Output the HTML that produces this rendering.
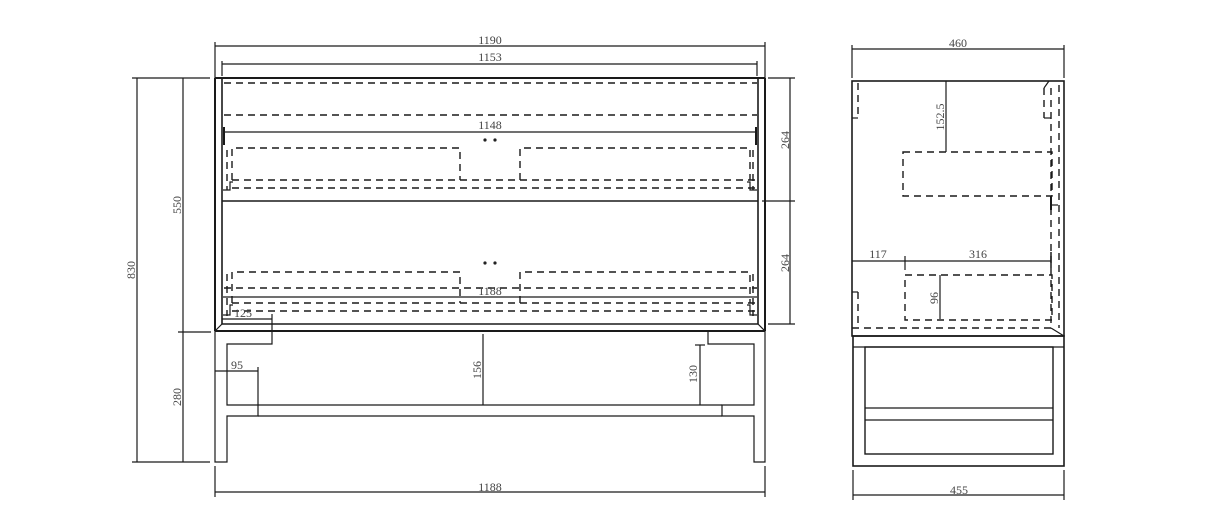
<!DOCTYPE html>
<html><head><meta charset="utf-8"><style>
html,body{margin:0;padding:0;background:#fff;}
svg{display:block;}
text{font-family:"Liberation Serif","Noto Serif CJK SC",serif;font-size:12px;fill:#444;}
</style></head><body>
<svg width="1207" height="513" viewBox="0 0 1207 513" xmlns="http://www.w3.org/2000/svg">
<g stroke="#1a1a1a" fill="none" stroke-width="1.2">
<line x1="215" y1="46" x2="765" y2="46"/>
<line x1="215" y1="42" x2="215" y2="78"/>
<line x1="765" y1="42" x2="765" y2="78"/>
<line x1="222" y1="64" x2="757" y2="64"/>
<line x1="222" y1="61" x2="222" y2="76"/>
<line x1="757" y1="61" x2="757" y2="76"/>
<line x1="215" y1="78" x2="765" y2="78" stroke-width="2"/>
<line x1="215" y1="78" x2="215" y2="331" stroke-width="2"/>
<line x1="222" y1="78" x2="222" y2="324" stroke-width="1.6"/>
<line x1="758" y1="78" x2="758" y2="324" stroke-width="1.6"/>
<line x1="765" y1="78" x2="765" y2="331" stroke-width="2"/>
<line x1="222" y1="324" x2="758" y2="324" stroke-width="1.6"/>
<line x1="215" y1="331" x2="765" y2="331" stroke-width="2"/>
<line x1="215" y1="331" x2="222" y2="324"/>
<line x1="765" y1="331" x2="758" y2="324"/>
<line x1="222" y1="201" x2="758" y2="201" stroke-width="1.6"/>
<line x1="223" y1="132" x2="757" y2="132"/>
<line x1="223" y1="297" x2="757" y2="297"/>
<g stroke-dasharray="7,5" stroke-width="1.4">
<line x1="224" y1="83" x2="757" y2="83"/>
<line x1="224" y1="115" x2="757" y2="115"/>
<polyline points="232,180 232,148 460,148 460,180"/>
<polyline points="520,180 520,148 750,148 750,180"/>
<line x1="232" y1="180" x2="757" y2="180"/>
<line x1="232" y1="188" x2="757" y2="188"/>
<polyline points="232,303 232,272 460,272 460,303"/>
<polyline points="520,303 520,272 750,272 750,303"/>
<line x1="224" y1="288" x2="757" y2="288"/>
<line x1="232" y1="303" x2="757" y2="303"/>
<line x1="232" y1="311" x2="757" y2="311"/>
<line x1="227" y1="150" x2="227" y2="190"/>
<line x1="753" y1="150" x2="753" y2="190"/>
<line x1="227" y1="274" x2="227" y2="316"/>
<line x1="753" y1="274" x2="753" y2="316"/>
</g>
<polyline points="223,190 230,190 230,182 233,182"/>
<polyline points="757,190 750,190 750,182 747,182"/>
<polyline points="223,315 230,315 230,305 233,305"/>
<polyline points="757,315 750,315 750,305 747,305"/>
<line x1="224" y1="127" x2="224" y2="145" stroke-width="2"/>
<line x1="756" y1="127" x2="756" y2="145" stroke-width="2"/>
<polyline points="272,331 272,344 227,344 227,405 258,405 258,416 227,416 227,462 215,462 215,331"/>
<polyline points="708,331 708,344 754,344 754,405 722,405 722,416 754,416 754,462 765,462 765,331"/>
<line x1="258" y1="405" x2="722" y2="405"/>
<line x1="258" y1="416" x2="722" y2="416"/>
<line x1="483" y1="334" x2="483" y2="405"/>
<line x1="700" y1="345" x2="700" y2="405"/>
<line x1="695" y1="345" x2="705" y2="345"/>
<line x1="215" y1="371" x2="258" y2="371"/>
<line x1="258" y1="367" x2="258" y2="405"/>
<line x1="222" y1="319" x2="272" y2="319"/>
<line x1="272" y1="314" x2="272" y2="330"/>
<line x1="215" y1="492" x2="765" y2="492"/>
<line x1="215" y1="466" x2="215" y2="497"/>
<line x1="765" y1="466" x2="765" y2="497"/>
<line x1="137" y1="78" x2="137" y2="462"/>
<line x1="183" y1="78" x2="183" y2="462"/>
<line x1="132" y1="78" x2="210" y2="78"/>
<line x1="132" y1="462" x2="210" y2="462"/>
<line x1="178" y1="332" x2="211" y2="332"/>
<line x1="790" y1="78" x2="790" y2="324"/>
<line x1="768" y1="78" x2="795" y2="78"/>
<line x1="762" y1="201" x2="795" y2="201"/>
<line x1="768" y1="324" x2="795" y2="324"/>
<line x1="852" y1="49" x2="1064" y2="49"/>
<line x1="852" y1="45" x2="852" y2="78"/>
<line x1="1064" y1="45" x2="1064" y2="78"/>
<rect x="852" y="81" width="212" height="255" stroke-width="1.6"/>
<rect x="853" y="336" width="211" height="130" stroke-width="1.6"/>
<line x1="853" y1="347" x2="1064" y2="347"/>
<rect x="865" y="347" width="188" height="107" stroke-width="1.4"/>
<line x1="865" y1="408" x2="1053" y2="408"/>
<line x1="865" y1="420" x2="1053" y2="420"/>
<line x1="853" y1="495" x2="1064" y2="495"/>
<line x1="853" y1="470" x2="853" y2="500"/>
<line x1="1064" y1="470" x2="1064" y2="500"/>
<g stroke-dasharray="7,5" stroke-width="1.4">
<rect x="903" y="152" width="149" height="44"/>
<rect x="905" y="275" width="147" height="45"/>
<line x1="852" y1="328" x2="1052" y2="328"/>
<line x1="1051" y1="88" x2="1051" y2="328"/>
<line x1="1059" y1="85" x2="1059" y2="328"/>
<line x1="858" y1="83" x2="858" y2="118"/>
<line x1="858" y1="292" x2="858" y2="328"/>
<line x1="1044" y1="88" x2="1044" y2="118"/>
</g>
<polyline points="852,118 858,118"/>
<polyline points="852,292 858,292"/>
<polyline points="1044,88 1049,81"/>
<polyline points="1044,118 1051,118"/>
<line x1="1051" y1="196" x2="1051" y2="210" stroke-width="2"/>
<line x1="1051" y1="205" x2="1058" y2="205"/>
<line x1="1051" y1="328" x2="1064" y2="336"/>
<line x1="946" y1="81" x2="946" y2="152"/>
<line x1="852" y1="261" x2="1051" y2="261"/>
<line x1="905" y1="256" x2="905" y2="270"/>
<line x1="1051" y1="252" x2="1051" y2="268" stroke-width="1.5"/>
<line x1="940" y1="275" x2="940" y2="319"/>
</g>
<g fill="#222">
<circle cx="485" cy="140" r="1.6"/><circle cx="495" cy="140" r="1.6"/>
<circle cx="485" cy="263" r="1.6"/><circle cx="495" cy="263" r="1.6"/>
</g>
<text x="490" y="44" text-anchor="middle">1190</text>
<text x="490" y="61" text-anchor="middle">1153</text>
<text x="490" y="129" text-anchor="middle">1148</text>
<text x="490" y="295" text-anchor="middle">1188</text>
<text x="490" y="491" text-anchor="middle">1188</text>
<text x="243" y="317" text-anchor="middle">125</text>
<text x="237" y="369" text-anchor="middle">95</text>
<text transform="translate(135,270) rotate(-90)" text-anchor="middle">830</text>
<text transform="translate(181,205) rotate(-90)" text-anchor="middle">550</text>
<text transform="translate(181,397) rotate(-90)" text-anchor="middle">280</text>
<text transform="translate(481,370) rotate(-90)" text-anchor="middle">156</text>
<text transform="translate(697,374) rotate(-90)" text-anchor="middle">130</text>
<text transform="translate(789,140) rotate(-90)" text-anchor="middle">264</text>
<text transform="translate(789,263) rotate(-90)" text-anchor="middle">264</text>
<text x="958" y="47" text-anchor="middle">460</text>
<text x="959" y="494" text-anchor="middle">455</text>
<text x="878" y="258" text-anchor="middle">117</text>
<text x="978" y="258" text-anchor="middle">316</text>
<text transform="translate(944,117) rotate(-90)" text-anchor="middle">152.5</text>
<text transform="translate(938,298) rotate(-90)" text-anchor="middle">96</text>
</svg>
</body></html>
